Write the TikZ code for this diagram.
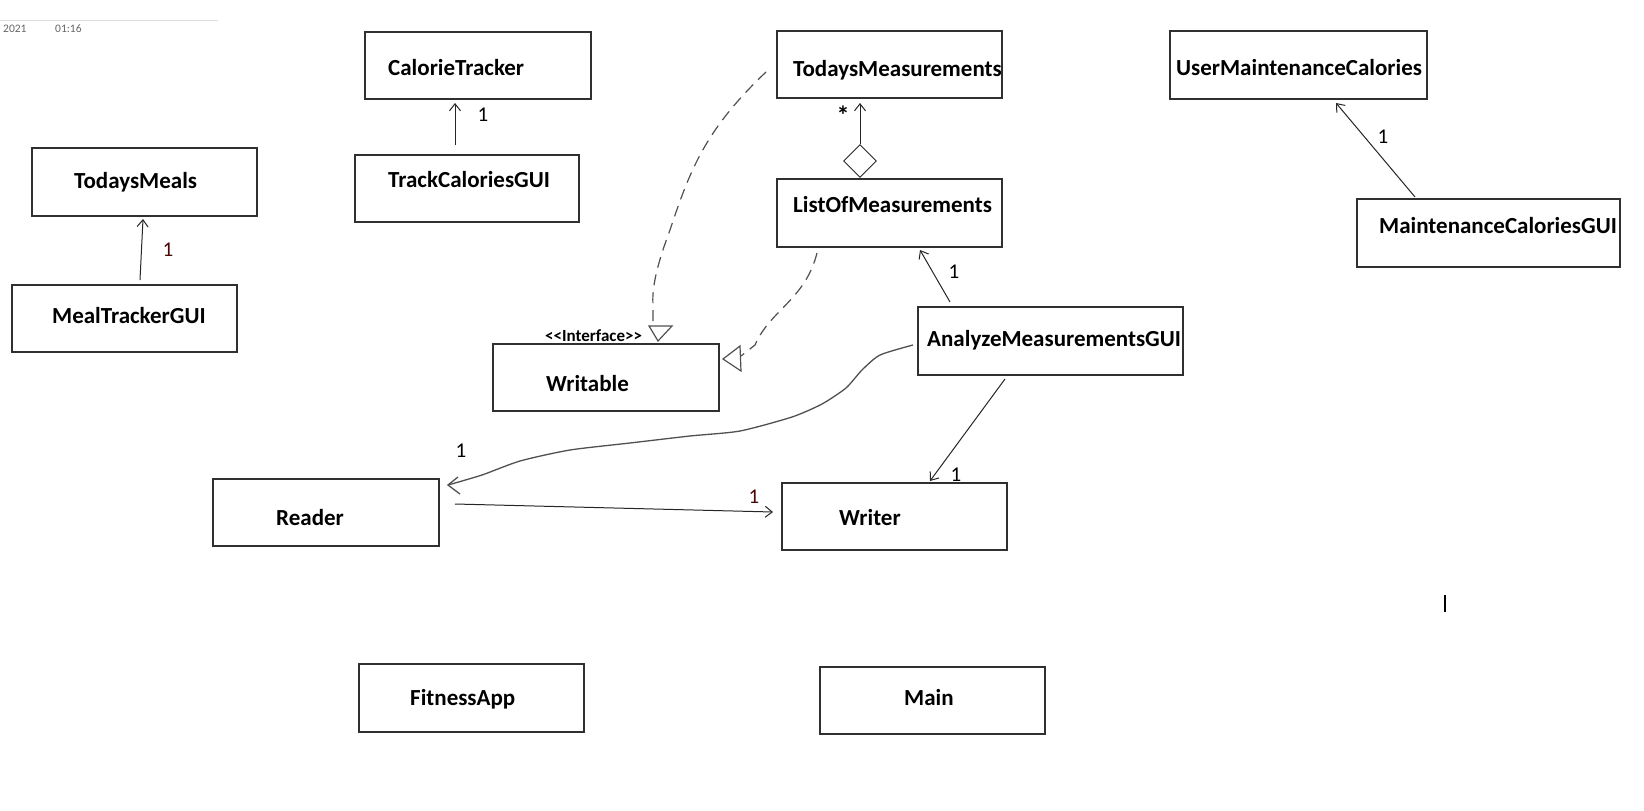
\documentclass[tikz,border=0pt]{standalone}
\usepackage{fontspec}
\setmainfont{Carlito}
\usetikzlibrary{arrows.meta}
\definecolor{boxline}{HTML}{303030}
\definecolor{dash}{HTML}{505050}
\definecolor{darkred}{HTML}{4A0808}
\tikzset{
  box/.style={draw=boxline, line width=1.3pt, rectangle, inner sep=0pt},
  txt/.style={font=\fontsize{23}{27}\selectfont\bfseries, inner sep=0pt, anchor=base west},
  num/.style={font=\fontsize{21}{25}\selectfont, inner sep=0pt, anchor=base},
  arr/.style={draw=black!85, line width=1pt, -{Straight Barb[length=7pt,width=11pt,line width=1pt]}},
  dsh/.style={draw=dash, line width=1.2pt, dash pattern=on 11pt off 7pt},
  wig/.style={draw=dash, line width=1.3pt},
  head/.style={draw=dash, line width=1.2pt, fill=white}
}
\begin{document}
\begin{tikzpicture}[x=1pt,y=-1pt]
\useasboundingbox[fill=white] (0,0) rectangle (1644,811);
% header
\draw[draw=black!13, line width=1pt] (0,20.5) -- (218,20.5);
\node[font=\fontsize{11.5}{13}\selectfont, text=black!60, inner sep=0pt, anchor=base west] (yr) at (3,32) {2021};
\node[font=\fontsize{11.5}{13}\selectfont, text=black!60, inner sep=0pt, anchor=base west] (tm) at (55,32) {01:16};
% boxes
\node[box, minimum width=226pt, minimum height=67pt] (cal) at (478,65.5) {};
\node[txt] (calT) at (388,75) {CalorieTracker};
\node[box, minimum width=224pt, minimum height=67pt] (track) at (467,188.5) {};
\node[txt] (trackT) at (388,187) {TrackCaloriesGUI};
\node[box, minimum width=225pt, minimum height=68pt] (meals) at (144.5,182) {};
\node[txt] (mealsT) at (74,188) {TodaysMeals};
\node[box, minimum width=225pt, minimum height=67pt] (mealgui) at (124.5,318.5) {};
\node[txt] (mealguiT) at (52,323) {MealTrackerGUI};
\node[box, minimum width=225pt, minimum height=67pt] (tmeas) at (889.5,64.5) {};
\node[txt] (tmeasT) at (793,76) {TodaysMeasurements};
\node[box, minimum width=225pt, minimum height=68pt] (list) at (889.5,213) {};
\node[txt] (listT) at (793,212) {ListOfMeasurements};
\node[box, minimum width=257pt, minimum height=68pt] (umc) at (1298.5,65) {};
\node[txt] (umcT) at (1176,75) {UserMaintenanceCalories};
\node[box, minimum width=263pt, minimum height=68pt] (mcg) at (1488.5,233) {};
\node[txt] (mcgT) at (1379,233) {MaintenanceCaloriesGUI};
\node[box, minimum width=226pt, minimum height=67pt] (writable) at (606,377.5) {};
\node[txt] (writableT) at (546,391) {Writable};
\node[font=\fontsize{17}{20}\selectfont\bfseries, inner sep=0pt, anchor=base west] (iface) at (545,341) {<{}<Interface>{}>};
\node[box, minimum width=265pt, minimum height=68pt] (analyze) at (1050.5,341) {};
\node[txt] (analyzeT) at (927,346) {AnalyzeMeasurementsGUI};
\node[box, minimum width=226pt, minimum height=67pt] (reader) at (326,512.5) {};
\node[txt] (readerT) at (276,525) {Reader};
\node[box, minimum width=225pt, minimum height=67pt] (writer) at (894.5,516.5) {};
\node[txt] (writerT) at (839,525) {Writer};
\node[box, minimum width=225pt, minimum height=68pt] (fitness) at (471.5,698) {};
\node[txt] (fitnessT) at (410,705) {FitnessApp};
\node[box, minimum width=225pt, minimum height=67pt] (main) at (932.5,700.5) {};
\node[txt] (mainT) at (904,705) {Main};
% simple associations
\coordinate (a1s) at (455,145); \coordinate (a1e) at (455,103);
\draw[arr] (a1s) -- (a1e);
\node[num] (n1) at (483,121) {1};
\coordinate (a2s) at (140,280); \coordinate (a2e) at (143,219);
\draw[arr] (a2s) -- (a2e);
\node[num, text=darkred] (n2) at (168,256) {1};
\coordinate (a3s) at (1415,197); \coordinate (a3e) at (1336,103);
\draw[arr] (a3s) -- (a3e);
\node[num] (n3) at (1383,143) {1};
\coordinate (a4s) at (950,302); \coordinate (a4e) at (920,250);
\draw[arr] (a4s) -- (a4e);
\node[num] (n4) at (954,278) {1};
\coordinate (a5s) at (1005,379); \coordinate (a5e) at (930,481);
\draw[arr] (a5s) -- (a5e);
\node[num] (n5) at (956,481) {1};
\coordinate (a6s) at (455,504); \coordinate (a6e) at (773,512);
\draw[arr] (a6s) -- (a6e);
\node[num, text=darkred] (n6) at (754,503) {1};
% aggregation
\node[draw=black!85, line width=1pt, fill=white, shape=rectangle, rotate=45, minimum width=23pt, minimum height=23pt, inner sep=0pt] (dia) at (860,161) {};
\coordinate (a7e) at (860,103);
\draw[arr] (dia.north east) -- (a7e);
\node[font=\fontsize{26}{30}\selectfont\bfseries, inner sep=0pt, anchor=base] (star) at (843,124) {*};
% dashed realizations
\coordinate (d1s) at (766,72);
\coordinate (d1e) at (653,326);
\draw[dsh] (d1s) .. controls (705,130) and (690,170) .. (670,230) .. controls (655,270) and (652,290) .. (653,305) -- (d1e);
\draw[head] (649,326) -- (672,326) -- (658,341) -- cycle;
\coordinate (d2s) at (817,253);
\coordinate (d2e) at (741,356);
\draw[dsh] (d2s) .. controls (805,300) and (770,310) .. (755,345) -- (d2e);
\draw[head] (723,359) -- (740,346) -- (741,371) -- cycle;
% wiggly dependency
\coordinate (w1) at (913,345);
\coordinate (w2) at (448,485);
\draw[wig] plot[smooth, tension=0.4] coordinates {(w1) (880,355) (862,370) (846,388) (822,404) (792,417) (740,431) (690,436) (630,443) (570,450) (520,461) (482,475) (w2)};
\draw[wig] (458,477) -- (w2) -- (460,494);
\node[num] (n7) at (461,457) {1};
% tick
\draw[line width=1.2pt] (1445,595) -- (1445,612);
\end{tikzpicture}
\end{document}
